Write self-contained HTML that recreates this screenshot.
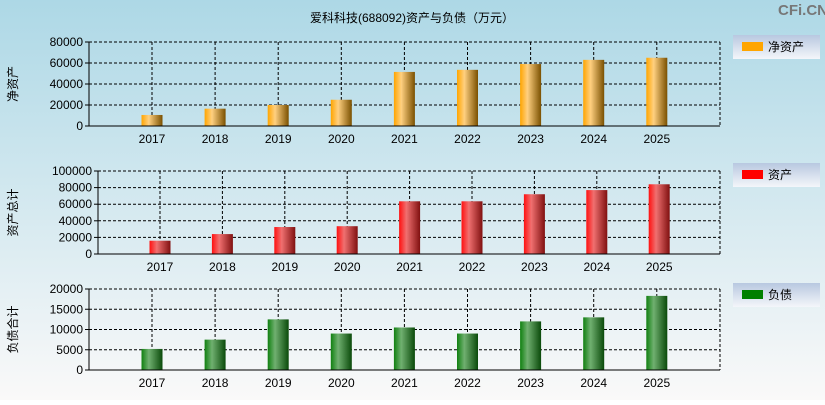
<!DOCTYPE html>
<html><head><meta charset="utf-8"><style>
body{margin:0;width:825px;height:400px;overflow:hidden;font-family:"Liberation Sans","Noto Sans CJK SC",sans-serif}
</style></head><body>
<svg id="c" width="825" height="400" xmlns="http://www.w3.org/2000/svg" font-family="Liberation Sans, Noto Sans CJK SC, sans-serif">
<defs>
<linearGradient id="bg" x1="0" y1="0" x2="0" y2="1"><stop offset="0" stop-color="#add8e6"/><stop offset="1" stop-color="#faf9f9"/></linearGradient>
<linearGradient id="lg" x1="0" y1="0" x2="0" y2="1"><stop offset="0" stop-color="#b8c8e0"/><stop offset="1" stop-color="#f4f6fa"/></linearGradient>
<linearGradient id="g0" x1="0" x2="1"><stop offset="0" stop-color="#ffa500"/><stop offset="0.35" stop-color="#ffd080"/><stop offset="1" stop-color="#7a5000"/></linearGradient>
<linearGradient id="g1" x1="0" x2="1"><stop offset="0" stop-color="#ff1010"/><stop offset="0.35" stop-color="#f07070"/><stop offset="1" stop-color="#801010"/></linearGradient>
<linearGradient id="g2" x1="0" x2="1"><stop offset="0" stop-color="#108010"/><stop offset="0.35" stop-color="#70b070"/><stop offset="1" stop-color="#0a4a0a"/></linearGradient>
</defs>
<rect width="825" height="400" fill="url(#bg)"/>
<text x="412" y="22" font-size="12" text-anchor="middle">爱科科技(688092)资产与负债（万元）</text>
<text x="778" y="15" font-size="15" font-weight="bold" fill="#777">CFi.CN</text>
</svg>
<script>
const years=["2017","2018","2019","2020","2021","2022","2023","2024","2025"];
const netAssets=[10500,16500,20000,25000,51500,53500,59000,63000,65000];
const totalAssets=[16000,24000,32500,33500,63500,63500,72000,77000,84000];
const liabilities=[5200,7500,12500,9000,10500,9000,12000,13000,18300];
const ticks1=[0,20000,40000,60000,80000];
const ticks2=[0,20000,40000,60000,80000,100000];
const ticks3=[0,5000,10000,15000,20000];
const svg=document.getElementById('c');
const NS='http://www.w3.org/2000/svg';
function mk(t,a,p){const e=document.createElementNS(NS,t);for(const k in a)e.setAttribute(k,a[k]);(p||svg).appendChild(e);return e;}
const panels=[
 {name:'net-assets',vals:netAssets,ticks:ticks1,x0:89,x1:720,y0:42,y1:126,c0:152,step:63.1,fill:'url(#g0)',ytitle:'净资产',leg:'净资产',legc:'#ffa500',ly:35},
 {name:'total-assets',vals:totalAssets,ticks:ticks2,x0:98,x1:720,y0:171,y1:254,c0:160,step:62.4,fill:'url(#g1)',ytitle:'资产总计',leg:'资产',legc:'#ff0000',ly:163},
 {name:'liabilities',vals:liabilities,ticks:ticks3,x0:89,x1:720,y0:289,y1:370,c0:152,step:63.1,fill:'url(#g2)',ytitle:'负债合计',leg:'负债',legc:'#008000',ly:283}
];
panels.forEach(p=>{
 const g=mk('g',{});
 
 
 const max=p.ticks[p.ticks.length-1];
 const ys=v=>p.y1-(v/max)*(p.y1-p.y0);
 const xs=i=>p.c0+i*p.step;
 p.ticks.forEach(t=>{
  const y=ys(t);
  if(t>0){const l=mk('line',{x1:p.x0,x2:p.x1,y1:y,y2:y,stroke:'#000','stroke-dasharray':'3,2','stroke-width':1},g);
  }
  mk('line',{x1:p.x0-4,x2:p.x0,y1:y,y2:y,stroke:'#000'},g);
  const tx=mk('text',{x:p.x0-6,y:y+4,'font-size':12,'text-anchor':'end'},g);tx.textContent=t;
  
 });
 mk('line',{x1:p.x1,x2:p.x1,y1:p.y0,y2:p.y1,stroke:'#000','stroke-dasharray':'3,2'},g);
 years.forEach((yr,i)=>{
  const x=xs(i);
  mk('line',{x1:x,x2:x,y1:p.y0,y2:p.y1,stroke:'#000','stroke-dasharray':'3,2'},g);
  const b=mk('rect',{x:x-10.5,y:ys(p.vals[i]),width:21,height:p.y1-ys(p.vals[i]),fill:p.fill},g);
  
  const tx=mk('text',{x:x,y:p.y1+17,'font-size':12,'text-anchor':'middle'},g);tx.textContent=yr;
  
 });
 mk('line',{x1:p.x0,x2:p.x0,y1:p.y0,y2:p.y1,stroke:'#000'},g);
 mk('line',{x1:p.x0,x2:p.x1,y1:p.y1,y2:p.y1,stroke:'#000'},g);
 const cy=(p.y0+p.y1)/2;
 const yt=mk('text',{x:0,y:0,'font-size':12,'text-anchor':'middle',transform:`translate(17,${cy}) rotate(-90)`},g);yt.textContent=p.ytitle;
 
 const lg=mk('g',{},g);
 
 mk('rect',{x:733,y:p.ly,width:87,height:24,fill:'url(#lg)'},lg);
 mk('rect',{x:742,y:p.ly+7,width:21,height:9,fill:p.legc},lg);
 const lt=mk('text',{x:768,y:p.ly+16,'font-size':12},lg);lt.textContent=p.leg;
});
</script>
</body></html>
